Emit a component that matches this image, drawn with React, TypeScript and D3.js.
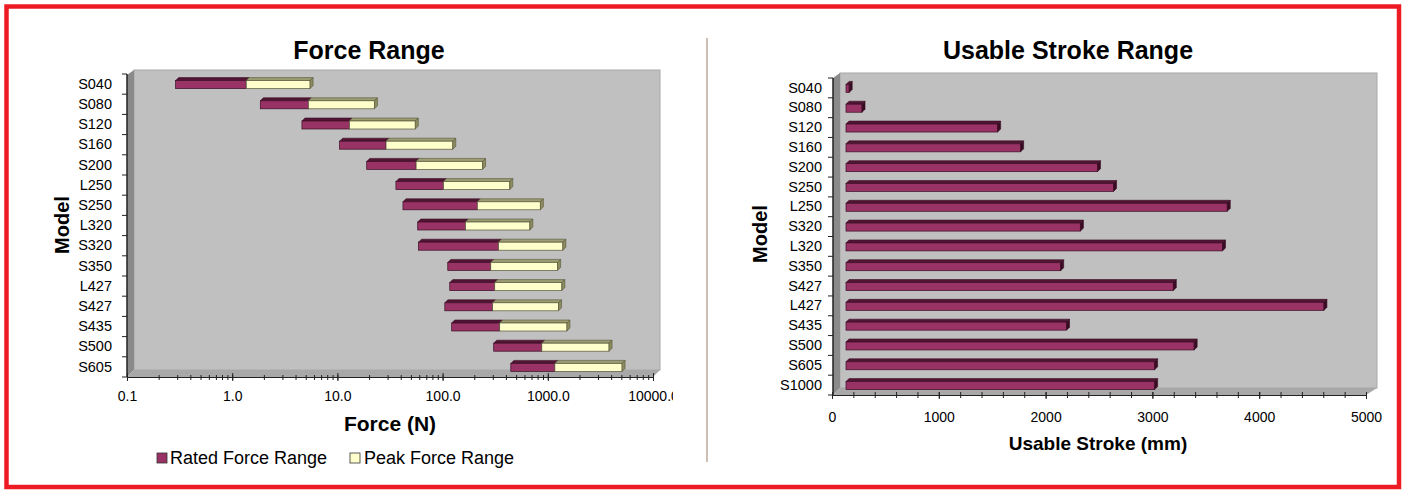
import { useEffect, useRef } from 'react';
import * as d3 from 'd3';

// Force chart (log scale, stacked floating bars)
const forceModels = ['S040', 'S080', 'S120', 'S160', 'S200', 'L250', 'S250', 'L320', 'S320', 'S350', 'L427', 'S427', 'S435', 'S500', 'S605'];
const forceMin = [0.29, 1.85, 4.6, 10.5, 19, 36, 42, 58, 59, 112, 117, 105, 122, 306, 445];
const ratedMax = [1.36, 5.3, 13, 29, 56, 102, 214, 165, 340, 287, 313, 299, 349, 877, 1167];
const peakMax = [5.5, 22.5, 55, 125, 240, 435, 850, 675, 1390, 1240, 1360, 1265, 1520, 3820, 5080];
const forceTicks = [0.1, 1, 10, 100, 1000, 10000];

// Stroke chart
const strokeModels = ['S040', 'S080', 'S120', 'S160', 'S200', 'S250', 'L250', 'S320', 'L320', 'S350', 'S427', 'L427', 'S435', 'S500', 'S605', 'S1000'];
const strokeValues = [30, 150, 1420, 1635, 2355, 2505, 3570, 2195, 3525, 2010, 3065, 4475, 2065, 3260, 2890, 2890];
const strokeTicks = [0, 1000, 2000, 3000, 4000, 5000];

const FONT = '"Liberation Sans", Arial, Helvetica, sans-serif';
const C = {
  plum: '#993366',
  plumTop: '#521634',
  plumEdge: '#3a0c24',
  cream: '#ffffcc',
  creamTop: '#9c9c72',
  creamCap: '#8c8c5e',
  creamEdge: '#55553a',
  wall: '#c0c0c0',
  side: '#8a8a8a',
  floor: '#a8a8a8',
  axis: '#222',
  red: '#ed1c24',
  divider: '#cbbfb3',
};

const D = 7; // wall depth
const d3D = 3; // bar depth

function Bar3D({ x0, x1, yc, front, top, cap, edge, withCap = true }: {
  x0: number; x1: number; yc: number; front: string; top: string; cap: string; edge: string; withCap?: boolean;
}) {
  const yF = yc - 3.5;
  const h = 8;
  return (
    <g>
      <polygon points={`${x0},${yF} ${x0 + d3D},${yF - d3D} ${x1 + d3D},${yF - d3D} ${x1},${yF}`} fill={top} stroke={edge} strokeWidth={0.6} />
      <rect x={x0} y={yF} width={Math.max(0, x1 - x0)} height={h} fill={front} stroke={edge} strokeWidth={0.7} />
      {withCap && (
        <polygon points={`${x1},${yF} ${x1 + d3D},${yF - d3D} ${x1 + d3D},${yF + h - d3D} ${x1},${yF + h}`} fill={cap} stroke={edge} strokeWidth={0.6} />
      )}
    </g>
  );
}

export default function App() {
  const lxRef = useRef<SVGGElement>(null);
  const lxMinorRef = useRef<SVGGElement>(null);
  const lyRef = useRef<SVGGElement>(null);
  const rxRef = useRef<SVGGElement>(null);
  const rxMinorRef = useRef<SVGGElement>(null);
  const ryRef = useRef<SVGGElement>(null);

  const xL = d3.scaleLog().domain([0.1, 10000]).range([127, 653]);
  const yL = d3.scaleBand().domain(forceModels).range([74, 377]);
  const xR = d3.scaleLinear().domain([0, 5000]).range([832, 1366]);
  const yR = d3.scaleBand().domain(strokeModels).range([78, 395]);

  const lBot = 377, lLeft = 127, lRight = xL(10000), lTop = 70;
  const rBot = 395, rLeft = 833, rRight = xR(5000), rTop = 73;
  const barShift = 14;

  useEffect(() => {
    const styleText = (sel: d3.Selection<any, any, any, any>, size = 14) =>
      sel.selectAll('text').attr('font-family', FONT).attr('font-size', size).attr('fill', '#000');

    // left x axis
    d3.select(lxRef.current!)
      .call(d3.axisBottom(xL).tickValues(forceTicks).tickFormat(d3.format('.1f')).tickSize(4).tickSizeOuter(0).tickPadding(10))
      .call((g) => g.select('.domain').attr('stroke', C.axis).attr('stroke-width', 1.2))
      .call((g) => g.selectAll('.tick line').attr('y1', -4).attr('stroke', C.axis))
      .call((g) => styleText(g));
    d3.select(lxMinorRef.current!)
      .call(d3.axisBottom(xL).tickValues(xL.ticks()).tickFormat(() => '').tickSize(3).tickSizeOuter(0))
      .call((g) => g.select('.domain').remove())
      .call((g) => g.selectAll('.tick line').attr('y1', -2).attr('stroke', C.axis));
    d3.select(lyRef.current!)
      .call(d3.axisLeft(yL).tickSize(0).tickPadding(15))
      .call((g) => g.select('.domain').remove())
      .call((g) => styleText(g, 14.5));

    // right x axis
    d3.select(rxRef.current!)
      .call(d3.axisBottom(xR).tickValues(strokeTicks).tickFormat(d3.format('d')).tickSize(4).tickSizeOuter(0).tickPadding(13))
      .call((g) => g.select('.domain').attr('stroke', C.axis).attr('stroke-width', 1.2))
      .call((g) => g.selectAll('.tick line').attr('y1', -3).attr('stroke', C.axis))
      .call((g) => styleText(g));
    d3.select(rxMinorRef.current!)
      .call(d3.axisBottom(xR).tickValues(xR.ticks(25)).tickFormat(() => '').tickSize(3).tickSizeOuter(0))
      .call((g) => g.select('.domain').remove())
      .call((g) => g.selectAll('.tick line').attr('y1', -3).attr('stroke', C.axis));
    d3.select(ryRef.current!)
      .call(d3.axisLeft(yR).tickSize(0).tickPadding(11))
      .call((g) => g.select('.domain').remove())
      .call((g) => styleText(g, 14.5));
  }, []);

  const lBounds = [...forceModels.map((m) => yL(m)!), lBot];
  const rBounds = [...strokeModels.map((m) => yR(m)!), rBot];

  return (
    <div style={{ position: 'absolute', left: 0, top: 0 }}>
      <svg width={1404} height={491} viewBox="0 0 1404 491" style={{ display: 'block', background: '#fff' }} fontFamily={FONT}>
        <defs>
          <clipPath id="leftClip">
            <rect x={0} y={0} width={673} height={491} />
          </clipPath>
        </defs>

        {/* ---------- Force Range ---------- */}
        <text x={369} y={59} textAnchor="middle" fontSize={25} fontWeight="bold">Force Range</text>

        {/* walls */}
        <rect x={lLeft + D} y={lTop} width={lRight - lLeft} height={lBot - D - lTop} fill={C.wall} stroke="#a8a8a8" strokeWidth={1} />
        <polygon points={`${lLeft},${lBot} ${lLeft + D},${lBot - D} ${lLeft + D},${lTop} ${lLeft},${lTop + 5}`} fill={C.side} />
        <polygon points={`${lLeft},${lBot} ${lRight},${lBot} ${lRight + D},${lBot - D} ${lLeft + D},${lBot - D}`} fill={C.floor} />

        {/* bars */}
        {forceModels.map((m, i) => {
          const yc = yL(m)! + yL.bandwidth() / 2;
          return (
            <g key={m}>
              <Bar3D x0={xL(forceMin[i])} x1={xL(ratedMax[i])} yc={yc} front={C.plum} top={C.plumTop} cap={C.plumTop} edge={C.plumEdge} withCap={false} />
              <Bar3D x0={xL(ratedMax[i])} x1={xL(peakMax[i])} yc={yc} front={C.cream} top={C.creamTop} cap={C.creamCap} edge={C.creamEdge} />
            </g>
          );
        })}

        {/* y axis */}
        <line x1={lLeft} x2={lLeft} y1={yL.range()[0]} y2={lBot} stroke={C.axis} strokeWidth={1.5} />
        {lBounds.map((y, i) => (
          <line key={i} x1={lLeft - 5} x2={lLeft} y1={y} y2={y} stroke={C.axis} />
        ))}
        <g ref={lyRef} transform={`translate(${lLeft},0)`} />
        <g clipPath="url(#leftClip)">
          <g ref={lxRef} transform={`translate(0,${lBot})`} />
          <g ref={lxMinorRef} transform={`translate(0,${lBot})`} />
        </g>

        <text x={390} y={431} textAnchor="middle" fontSize={21} fontWeight="bold">Force (N)</text>
        <text transform="translate(69,225) rotate(-90)" textAnchor="middle" fontSize={20} fontWeight="bold">Model</text>

        {/* legend */}
        <rect x={157} y={453} width={10} height={10} fill={C.plum} stroke="#333" strokeWidth={0.8} />
        <text x={170} y={464} fontSize={18}>Rated Force Range</text>
        <rect x={350} y={453} width={10} height={10} fill={C.cream} stroke="#333" strokeWidth={0.8} />
        <text x={364} y={464} fontSize={18}>Peak Force Range</text>

        {/* divider */}
        <line x1={707} x2={707} y1={38} y2={462} stroke={C.divider} strokeWidth={2} />

        {/* ---------- Usable Stroke Range ---------- */}
        <text x={1068} y={59} textAnchor="middle" fontSize={25} fontWeight="bold">Usable Stroke Range</text>

        <rect x={rLeft + D} y={rTop} width={rRight - rLeft + 4} height={rBot - D - rTop} fill={C.wall} stroke="#a8a8a8" strokeWidth={1} />
        <polygon points={`${rLeft},${rBot} ${rLeft + D},${rBot - D} ${rLeft + D},${rTop} ${rLeft},${rTop + 5}`} fill={C.side} />
        <polygon points={`${rLeft},${rBot} ${rRight},${rBot} ${rRight + D + 4},${rBot - D} ${rLeft + D},${rBot - D}`} fill={C.floor} />

        {strokeModels.map((m, i) => {
          const yc = yR(m)! + yR.bandwidth() / 2;
          return (
            <Bar3D key={m} x0={xR(0) + barShift} x1={xR(strokeValues[i]) + barShift} yc={yc}
              front={C.plum} top={C.plumTop} cap={C.plumEdge} edge={C.plumEdge} />
          );
        })}

        <line x1={rLeft} x2={rLeft} y1={yR.range()[0]} y2={rBot} stroke={C.axis} strokeWidth={1.5} />
        {rBounds.map((y, i) => (
          <line key={i} x1={rLeft - 5} x2={rLeft} y1={y} y2={y} stroke={C.axis} />
        ))}
        <g ref={ryRef} transform={`translate(${rLeft},0)`} />
        <g ref={rxRef} transform={`translate(0,${rBot})`} />
        <g ref={rxMinorRef} transform={`translate(0,${rBot})`} />

        <text x={1098} y={450} textAnchor="middle" fontSize={19} fontWeight="bold">Usable Stroke (mm)</text>
        <text transform="translate(767,234) rotate(-90)" textAnchor="middle" fontSize={20} fontWeight="bold">Model</text>

        {/* outer red frame */}
        <rect x={6.5} y={6.5} width={1392.5} height={480.5} fill="none" stroke={C.red} strokeWidth={4.5} />
      </svg>
    </div>
  );
}
